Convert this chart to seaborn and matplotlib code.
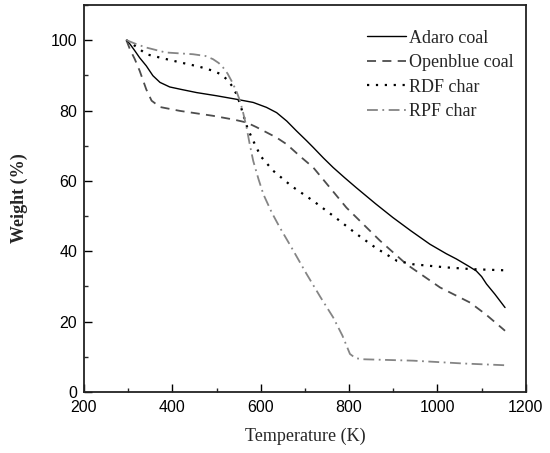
import matplotlib
matplotlib.use("Agg")
import matplotlib.pyplot as plt
import seaborn as sns
import pandas as pd
from matplotlib.ticker import MultipleLocator

# ---- data ----
adaro_T = [296, 304, 315, 326, 341, 356, 372, 394, 420, 455, 500, 545, 583, 613, 636,
           659, 681, 704, 719, 742, 764, 790, 816, 860, 899, 940, 983, 1020, 1043, 1070,
           1088, 1100, 1111, 1130, 1153]
adaro_W = [100, 98.9, 97, 95, 92.7, 89.9, 88, 86.7, 86, 85.1, 84.2, 83.2, 82.3, 80.9, 79.4,
           77, 74.2, 71.4, 69.5, 66.5, 63.8, 60.9, 58.1, 53.5, 49.6, 45.8, 42, 39.3, 37.8,
           35.8, 34.4, 32.8, 30.7, 27.8, 24]

openblue_T = [296, 304, 315, 326, 341, 353, 372, 417, 492, 540, 568, 590, 613, 636, 659,
              689, 719, 794, 870, 930, 1006, 1074, 1110, 1153]
openblue_W = [100, 97.4, 94.6, 91.3, 86, 82.8, 81, 79.9, 78.5, 77.4, 76.6, 75.3, 73.8, 72.3,
              70.4, 67, 63.8, 52.4, 43, 36.3, 29.7, 25.4, 22, 17.4]

rdf_T = [296, 320, 341, 380, 417, 460, 492, 510, 523, 535, 545, 553, 560, 570, 583, 600,
         628, 670, 719, 770, 817, 860, 908, 945, 1021, 1080, 1149]
rdf_W = [100, 98, 96, 94.8, 93.7, 92.5, 91.3, 90.3, 88.9, 87, 84.7, 82, 79, 75, 71.4, 67,
         62.9, 58.5, 54.3, 49.5, 44.9, 41, 37.3, 36.3, 35.4, 34.9, 34.6]

rpf_T = [296, 320, 341, 385, 447, 475, 492, 505, 515, 525, 534, 545, 553, 560, 568, 575,
         583, 595, 606, 625, 643, 670, 704, 735, 764, 785, 802, 815, 832, 945, 1058, 1153]
rpf_W = [100, 98.8, 97.9, 96.5, 96, 95.5, 94.6, 93.5, 92.2, 90.5, 88.4, 85.5, 82.8, 79.5,
         75.2, 70.5, 65.7, 60.5, 56.2, 51, 46.8, 41, 33.5, 27, 21.2, 16, 10.8, 9.6, 9.3,
         8.9, 8.1, 7.6]

series_names = ["Adaro coal", "Openblue coal", "RDF char", "RPF char"]
x_ticks = [200, 400, 600, 800, 1000, 1200]
y_ticks = [0, 20, 40, 60, 80, 100]

sns.set_theme(style="ticks")
plt.rcParams["font.family"] = ["Liberation Sans", "DejaVu Sans"]

fig = plt.figure(figsize=(5.5, 4.53), dpi=100)
ax = fig.add_axes([0.1527, 0.1347, 0.8033, 0.8543])

styles = [
    dict(color="black", linestyle="-", linewidth=1.0),
    dict(color="#4d4d4d", linestyle=(0, (5, 3.5)), linewidth=1.3),
    dict(color="black", linestyle=(0, (1, 3)), linewidth=1.6),
    dict(color="#858585", linestyle=(0, (6, 2.5, 1, 2.5)), linewidth=1.3),
]
data = [(adaro_T, adaro_W), (openblue_T, openblue_W), (rdf_T, rdf_W), (rpf_T, rpf_W)]

for name, (t, w), st in zip(series_names, data, styles):
    df = pd.DataFrame({"T": t, "W": w})
    sns.lineplot(data=df, x="T", y="W", ax=ax, label=name, sort=False,
                 estimator=None, **st)

ax.set_xlim(200, 1200)
ax.set_ylim(0, 110)
ax.set_xticks(x_ticks)
ax.set_yticks(y_ticks)
ax.xaxis.set_minor_locator(MultipleLocator(100))
ax.yaxis.set_minor_locator(MultipleLocator(10))
ax.tick_params(which="major", direction="in", length=5.5, width=1.0, labelsize=11.5,
               colors="black")
ax.tick_params(axis="x", which="major", pad=6)
ax.tick_params(axis="y", which="major", pad=5)
ax.tick_params(which="minor", direction="in", length=3, width=1.0)
ax.tick_params(top=False, right=False)
for s in ax.spines.values():
    s.set_linewidth(1.3)
    s.set_color("#222222")

ax.set_xlabel("Temperature (K)", fontfamily="Liberation Serif", fontsize=13, labelpad=9)
ax.set_ylabel("Weight (%)", fontfamily="Liberation Serif", fontsize=13,
              fontweight="bold", labelpad=16)

leg = ax.legend(loc="upper right", frameon=False, handlelength=2.2, handletextpad=0.15,
                labelspacing=0.42, borderaxespad=0.0, bbox_to_anchor=(0.989, 0.955),
                prop={"family": "Liberation Serif", "size": 13})

fig.savefig("out.png", dpi=100)
